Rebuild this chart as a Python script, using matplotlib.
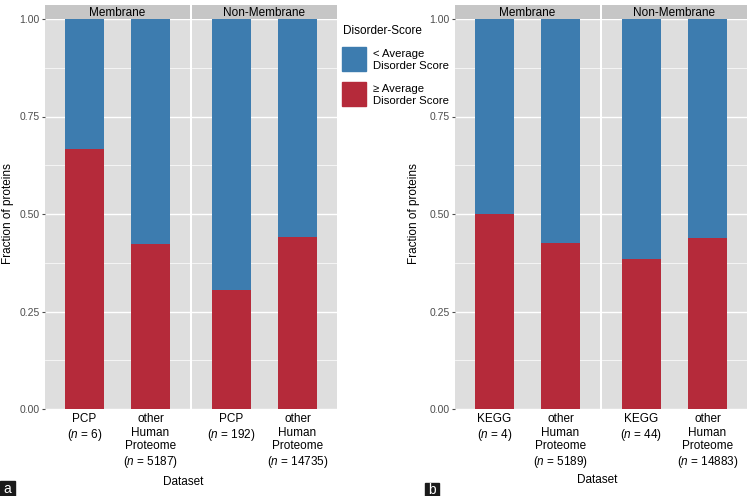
import numpy as np
import matplotlib.pyplot as plt
from matplotlib.patches import Rectangle

plt.rcParams['font.family'] = ['Liberation Sans', 'DejaVu Sans']
plt.rcParams['mathtext.fontset'] = 'custom'
plt.rcParams['mathtext.it'] = 'Liberation Sans:italic'
plt.rcParams['mathtext.rm'] = 'Liberation Sans'

# data: fraction of proteins with >= average disorder score
facets = ["Membrane", "Non-Membrane"]
labels_a = [["PCP\n($\\it{n}$ = 6)", "other\nHuman\nProteome\n($\\it{n}$ = 5187)"],
            ["PCP\n($\\it{n}$ = 192)", "other\nHuman\nProteome\n($\\it{n}$ = 14735)"]]
high_a = [[0.666, 0.424], [0.305, 0.440]]
labels_b = [["KEGG\n($\\it{n}$ = 4)", "other\nHuman\nProteome\n($\\it{n}$ = 5189)"],
            ["KEGG\n($\\it{n}$ = 44)", "other\nHuman\nProteome\n($\\it{n}$ = 14883)"]]
high_b = [[0.500, 0.425], [0.384, 0.438]]
yticks = [0.0, 0.25, 0.5, 0.75, 1.0]

blue = "#3D7CAF"
red = "#B52A3A"
panel_bg = "#DEDEDE"
strip_bg = "#C6C6C6"

W, H = 750, 496
fig = plt.figure(figsize=(W / 100, H / 100), dpi=100)


def px_axes(x0, x1, ytop, ybot):
    return fig.add_axes([x0 / W, 1 - ybot / H, (x1 - x0) / W, (ybot - ytop) / H])


def draw_panel(xstarts, labels, highs):
    for i, x0 in enumerate(xstarts):
        ax = px_axes(x0, x0 + 145, 19, 409)
        ax.set_facecolor(panel_bg)
        pos = np.arange(len(labels[i]))
        low = [1 - v for v in highs[i]]
        ax.bar(pos, highs[i], width=0.6, color=red, zorder=3)
        ax.bar(pos, low, bottom=highs[i], width=0.6, color=blue, zorder=3)
        ax.set_xlim(-0.6, 1.6)
        ax.set_ylim(0, 1)
        ax.set_yticks(yticks)
        ax.set_yticks([0.125, 0.375, 0.625, 0.875], minor=True)
        ax.grid(True, which='major', color='white', lw=1.0, zorder=1)
        ax.grid(True, which='minor', axis='y', color='white', lw=0.5, zorder=1)
        for s in ax.spines.values():
            s.set_visible(False)
        ax.set_xticks(pos)
        ax.set_xticklabels(labels[i], fontsize=8.5, color='black', linespacing=1.15)
        ax.tick_params(axis='x', length=0, pad=3)
        ax.tick_params(axis='y', which='minor', length=0)
        if i == 0:
            ax.set_yticklabels(["%.2f" % t for t in yticks], fontsize=7.5, color='#4D4D4D')
            ax.tick_params(axis='y', length=2, color='#4D4D4D', pad=2)
        else:
            ax.tick_params(axis='y', length=0, labelleft=False)
        # facet strip
        sax = px_axes(x0, x0 + 145, 5, 19)
        sax.set_facecolor(strip_bg)
        sax.set_xticks([])
        sax.set_yticks([])
        for s in sax.spines.values():
            s.set_visible(False)
        sax.text(0.5, 0.45, facets[i], ha='center', va='center', fontsize=8.5,
                 transform=sax.transAxes)


draw_panel([45, 192], labels_a, high_a)
draw_panel([455, 602], labels_b, high_b)

# axis titles
fig.text(183 / W, 1 - 482 / H, "Dataset", ha='center', va='center', fontsize=8.5)
fig.text(597 / W, 1 - 480 / H, "Dataset", ha='center', va='center', fontsize=8.5)
fig.text(8 / W, 1 - 214 / H, "Fraction of proteins", rotation=90, ha='center',
         va='center', fontsize=8.5)
fig.text(414 / W, 1 - 214 / H, "Fraction of proteins", rotation=90, ha='center',
         va='center', fontsize=8.5)

# legend
fig.text(343 / W, 1 - 31 / H, "Disorder-Score", ha='left', va='center', fontsize=8.5)
legend_items = [(blue, "< Average\nDisorder Score"), (red, "\u2265 Average\nDisorder Score")]
for k, (c, lab) in enumerate(legend_items):
    ytop = 47 + k * 35
    fig.patches.append(Rectangle((342 / W, 1 - (ytop + 24) / H), 24 / W, 24 / H,
                                 transform=fig.transFigure, color=c))
    fig.text(373 / W, 1 - (ytop + 13) / H, lab, ha='left', va='center', fontsize=8.2,
             linespacing=1.25)

# panel letters
fig.patches.append(Rectangle((0, 0), 15 / W, 15 / H, transform=fig.transFigure, color='#1A1A1A'))
fig.text(7.5 / W, 7 / H, "a", color='white', ha='center', va='center', fontsize=10)
fig.patches.append(Rectangle((425 / W, 0), 14 / W, 13 / H, transform=fig.transFigure, color='#1A1A1A'))
fig.text(432 / W, 6 / H, "b", color='white', ha='center', va='center', fontsize=10)

fig.savefig("out.png", dpi=100)
